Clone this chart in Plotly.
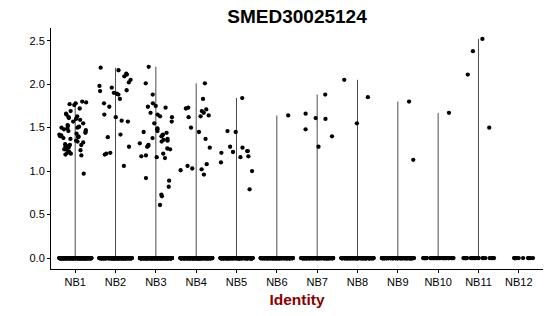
import math
import plotly.graph_objects as go

categories = ["NB1", "NB2", "NB3", "NB4", "NB5", "NB6", "NB7", "NB8", "NB9", "NB10", "NB11", "NB12"]

nb1 = [1.79, 1.78, 1.80, 1.77, 1.76, 1.72, 1.69, 1.65, 1.66, 1.63, 1.62, 1.61, 1.60, 1.59, 1.57,
       1.55, 1.53, 1.52, 1.51, 1.50, 1.50, 1.49, 1.48, 1.47, 1.46, 1.45, 1.44, 1.43, 1.42, 1.41,
       1.40, 1.40, 1.39, 1.38, 1.37, 1.35, 1.34, 1.33, 1.31, 1.30, 1.30, 1.29, 1.28, 1.27, 1.25,
       1.25, 1.24, 1.22, 1.21, 1.20, 1.19, 1.18, 0.97]
nb2 = [2.19, 2.16, 2.12, 2.11, 2.09, 2.05, 2.02, 1.98, 1.96, 1.93, 1.92, 1.90, 1.89, 1.88, 1.83,
       1.78, 1.74, 1.65, 1.62, 1.58, 1.57, 1.42, 1.39, 1.28, 1.21, 1.20, 1.19, 1.06]
nb3 = [2.20, 2.01, 1.88, 1.78, 1.75, 1.74, 1.73, 1.67, 1.65, 1.63, 1.62, 1.57, 1.55, 1.49, 1.48,
       1.46, 1.45, 1.44, 1.42, 1.41, 1.40, 1.38, 1.37, 1.36, 1.35, 1.34, 1.32, 1.30, 1.29, 1.28,
       1.26, 1.25, 1.20, 1.18, 1.17, 1.16, 1.15, 0.92, 0.89, 0.82, 0.73, 0.71, 0.61]
nb4 = [2.01, 1.83, 1.73, 1.72, 1.71, 1.69, 1.67, 1.64, 1.63, 1.62, 1.50, 1.45, 1.37, 1.27, 1.08,
       1.06, 1.03, 1.02, 1.01, 0.96]
nb5 = [1.84, 1.46, 1.45, 1.28, 1.27, 1.23, 1.23, 1.22, 1.21, 1.17, 1.16, 1.10, 1.00, 0.79]
nb6 = [1.64]
nb7 = [1.88, 1.66, 1.61, 1.60, 1.48, 1.40, 1.28]
nb8 = [2.05, 1.85, 1.55]
nb9 = [1.80, 1.13]
nb10 = [1.67]
nb11 = [2.52, 2.38, 2.11, 1.50]
nb12 = []

nonzero_values = [nb1, nb2, nb3, nb4, nb5, nb6, nb7, nb8, nb9, nb10, nb11, nb12]
zero_counts = [400, 350, 400, 350, 300, 250, 220, 220, 160, 40, 24, 12]

y_ticks = [0.0, 0.5, 1.0, 1.5, 2.0, 2.5]
title_text = "SMED30025124"
x_title = "Identity"


def jitter(i, g, width=0.4):
    # deterministic hash-style jitter in [-width, width]
    s = math.sin(i * 12.9898 + g * 78.233 + 0.5) * 43758.5453
    f = s - math.floor(s)
    return (f - 0.5) * 2 * width


fig = go.Figure()

# violin outlines (data range per group, extremely thin)
vx, vy = [], []
for g, vals in enumerate(nonzero_values):
    if vals:
        vx += [g, g, None]
        vy += [0, max(vals), None]
fig.add_trace(go.Scatter(x=vx, y=vy, mode="lines",
                         line=dict(color="#4d4d4d", width=1),
                         hoverinfo="skip", showlegend=False))

px, py = [], []
for g, vals in enumerate(nonzero_values):
    allv = [0.0] * zero_counts[g] + list(vals)
    for i, v in enumerate(allv):
        px.append(g + jitter(i, g))
        py.append(v)
fig.add_trace(go.Scatter(x=px, y=py, mode="markers",
                         marker=dict(color="black", size=4.3, line=dict(width=0)),
                         showlegend=False))

fig.update_layout(
    width=550, height=316,
    margin=dict(l=51, r=7, t=28, b=47),
    paper_bgcolor="white", plot_bgcolor="white",
    font=dict(family="Liberation Sans, Arial, sans-serif", color="black"),
    title=dict(text="<b>" + title_text + "</b>", x=(51 + 543) / 2 / 550, xanchor="center",
               y=1 - 16 / 316, yanchor="middle", font=dict(size=19, color="black")),
    showlegend=False,
)
fig.update_xaxes(
    range=[-0.6, len(categories) - 0.4],
    tickmode="array", tickvals=list(range(len(categories))), ticktext=categories,
    showgrid=False, zeroline=False, showline=True, linecolor="black", linewidth=1,
    ticks="outside", ticklen=3, tickcolor="black", tickfont=dict(size=11, color="black"),
    title=dict(text="<b>" + x_title + "</b>", font=dict(size=15.5, color="#8B0000"), standoff=6),
)
fig.update_yaxes(
    range=[-0.126, 2.646],
    tickmode="array", tickvals=y_ticks, ticktext=[f"{t:.1f}" for t in y_ticks],
    showgrid=False, zeroline=False, showline=True, linecolor="black", linewidth=1,
    ticks="outside", ticklen=3, tickcolor="black", tickfont=dict(size=11, color="black"),
)

fig.write_html("out.html")
